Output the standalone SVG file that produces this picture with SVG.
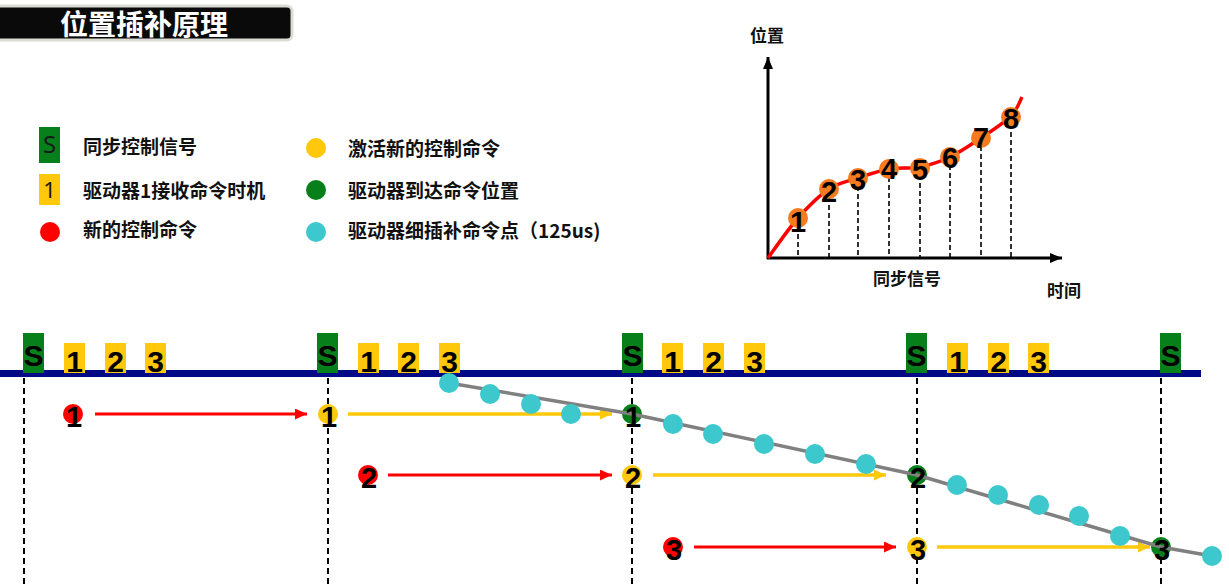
<svg xmlns="http://www.w3.org/2000/svg" width="1229" height="585" viewBox="0 0 1229 585">
<style>
.cjk{font-family:"Noto Sans CJK SC","Noto Sans",sans-serif;font-weight:bold;fill:#111}
.lbl{font-size:19px}
.big{font-family:"Liberation Sans",Arial,sans-serif;font-weight:bold;font-size:30px;fill:#000;text-anchor:middle}
.num{font-family:"Liberation Sans",Arial,sans-serif;font-weight:bold;font-size:29px;fill:#000;text-anchor:middle}
.sg{fill:#077F1A}
.yl{fill:#FFC80A}
.rd{fill:#FF0000}
.cy{fill:#3CC8CC}
.or{fill:#F47B20}
.dash{stroke:#000;stroke-width:2;stroke-dasharray:6 4;fill:none}
.cdash{stroke:#000;stroke-width:1.6;stroke-dasharray:5 3;fill:none}
</style>
<defs>
<marker id="ar" viewBox="0 0 12 11" refX="12" refY="5.5" markerWidth="12" markerHeight="11" markerUnits="userSpaceOnUse" orient="auto"><path d="M0,0 L12,5.5 L0,11 z" fill="#FF0000"/></marker>
<marker id="ay" viewBox="0 0 12 11" refX="12" refY="5.5" markerWidth="12" markerHeight="11" markerUnits="userSpaceOnUse" orient="auto"><path d="M0,0 L12,5.5 L0,11 z" fill="#FFC80A"/></marker>
<marker id="ak" viewBox="0 0 12 10" refX="12" refY="5" markerWidth="12" markerHeight="10" markerUnits="userSpaceOnUse" orient="auto"><path d="M0,0 L12,5 L0,10 z" fill="#000"/></marker>
</defs>
<rect width="1229" height="585" fill="#fff"/>

<g id="title">
<rect x="-6" y="6" width="298" height="34" rx="5" fill="#0a0a0a" stroke="#dcdcd4" stroke-width="3"/>
<text x="144" y="35" font-family="Noto Sans CJK SC,sans-serif" font-weight="bold" font-size="28" fill="#fff" text-anchor="middle">位置插补原理</text>
</g>

<g id="legend">
<g id="lg-s"><rect class="sg" x="39" y="127" width="21" height="36"/><text x="49.5" y="153" font-family="Noto Sans,sans-serif" font-size="24" fill="#1a1a1a" text-anchor="middle">S</text><text class="cjk lbl" x="83" y="154">同步控制信号</text></g>
<g id="lg-1"><rect class="yl" x="39" y="174" width="21" height="31"/><text x="49.5" y="198" font-family="Noto Sans,sans-serif" font-size="22" fill="#1a1a1a" text-anchor="middle">1</text><text class="cjk lbl" x="83" y="198">驱动器1接收命令时机</text></g>
<g id="lg-red"><circle class="rd" cx="50" cy="232" r="10"/><text class="cjk lbl" x="83" y="237">新的控制命令</text></g>
<g id="lg-yel"><circle class="yl" cx="316" cy="148" r="10"/><text class="cjk lbl" x="348" y="156">激活新的控制命令</text></g>
<g id="lg-grn"><circle class="sg" cx="316" cy="190" r="10"/><text class="cjk lbl" x="348" y="198">驱动器到达命令位置</text></g>
<g id="lg-cy"><circle class="cy" cx="316" cy="232" r="10"/><text class="cjk lbl" x="348" y="238">驱动器细插补命令点（125us)</text></g>
</g>

<g id="chart">
<g id="chart-dashes">
<line class="cdash" x1="798" y1="218" x2="798" y2="258"/>
<line class="cdash" x1="829" y1="189" x2="829" y2="258"/>
<line class="cdash" x1="858" y1="178" x2="858" y2="258"/>
<line class="cdash" x1="889" y1="169" x2="889" y2="258"/>
<line class="cdash" x1="920" y1="167" x2="920" y2="258"/>
<line class="cdash" x1="950" y1="157" x2="950" y2="258"/>
<line class="cdash" x1="981" y1="138" x2="981" y2="258"/>
<line class="cdash" x1="1011" y1="116" x2="1011" y2="258"/>
</g>
<g id="axes">
<line x1="768" y1="259" x2="768" y2="57" stroke="#000" stroke-width="3" marker-end="url(#ak)"/>
<line x1="767" y1="258" x2="1062" y2="258" stroke="#000" stroke-width="3" marker-end="url(#ak)"/>
</g>
<path id="curve" d="M768,258 C773,251.3 787.8,229.5 798,218 C808.2,206.5 819,195.7 829,189 C839,182.3 848,181.3 858,178 C868,174.7 878.7,170.8 889,169 C899.3,167.2 909.8,169 920,167 C930.2,165 939.8,161.8 950,157 C960.2,152.2 970.8,144.8 981,138 C991.2,131.2 1004.2,122.8 1011,116 C1017.8,109.2 1020.2,100.2 1022,97" fill="none" stroke="#FF0000" stroke-width="3.5"/>
<g id="pt1"><circle class="or" cx="798" cy="218" r="10"/><text class="num" x="798" y="232">1</text></g>
<g id="pt2"><circle class="or" cx="829" cy="189" r="10"/><text class="num" x="829" y="202">2</text></g>
<g id="pt3"><circle class="or" cx="858" cy="178" r="10"/><text class="num" x="858" y="190">3</text></g>
<g id="pt4"><circle class="or" cx="889" cy="169" r="10"/><text class="num" x="889" y="179">4</text></g>
<g id="pt5"><circle class="or" cx="920" cy="168" r="10"/><text class="num" x="920" y="180">5</text></g>
<g id="pt6"><circle class="or" cx="950" cy="157" r="10"/><text class="num" x="950" y="168">6</text></g>
<g id="pt7"><circle class="or" cx="981" cy="138" r="10"/><text class="num" x="981" y="148">7</text></g>
<g id="pt8"><circle class="or" cx="1011" cy="117" r="10"/><text class="num" x="1011" y="129">8</text></g>
<text class="cjk" x="750" y="42" font-size="17">位置</text>
<text class="cjk" x="873" y="285" font-size="17">同步信号</text>
<text class="cjk" x="1047" y="297" font-size="17">时间</text>
</g>

<g id="sync-dashes">
<line class="dash" x1="24" y1="378" x2="24" y2="585"/>
<line class="dash" x1="328" y1="378" x2="328" y2="585"/>
<line class="dash" x1="632" y1="378" x2="632" y2="585"/>
<line class="dash" x1="917" y1="378" x2="917" y2="585"/>
<line class="dash" x1="1161" y1="378" x2="1161" y2="585"/>
</g>

<line id="bus" x1="0" y1="373.5" x2="1201" y2="373.5" stroke="#000A85" stroke-width="7"/>

<g id="sync-1"><rect class="sg" x="23" y="333" width="21" height="40"/><text class="big" x="33.5" y="366">S</text>
<rect class="yl" x="64" y="343" width="21" height="30"/><text class="big" x="74.5" y="372">1</text>
<rect class="yl" x="105" y="343" width="21" height="30"/><text class="big" x="115.5" y="372">2</text>
<rect class="yl" x="145" y="343" width="21" height="30"/><text class="big" x="155.5" y="372">3</text></g>
<g id="sync-2"><rect class="sg" x="317" y="333" width="21" height="40"/><text class="big" x="327.5" y="366">S</text>
<rect class="yl" x="358" y="343" width="21" height="30"/><text class="big" x="368.5" y="372">1</text>
<rect class="yl" x="398" y="343" width="21" height="30"/><text class="big" x="408.5" y="372">2</text>
<rect class="yl" x="439" y="343" width="21" height="30"/><text class="big" x="449.5" y="372">3</text></g>
<g id="sync-3"><rect class="sg" x="622" y="333" width="21" height="40"/><text class="big" x="632.5" y="366">S</text>
<rect class="yl" x="662" y="343" width="21" height="30"/><text class="big" x="672.5" y="372">1</text>
<rect class="yl" x="703" y="343" width="21" height="30"/><text class="big" x="713.5" y="372">2</text>
<rect class="yl" x="744" y="343" width="21" height="30"/><text class="big" x="754.5" y="372">3</text></g>
<g id="sync-4"><rect class="sg" x="906" y="333" width="21" height="40"/><text class="big" x="916.5" y="366">S</text>
<rect class="yl" x="947" y="343" width="21" height="30"/><text class="big" x="957.5" y="372">1</text>
<rect class="yl" x="988" y="343" width="21" height="30"/><text class="big" x="998.5" y="372">2</text>
<rect class="yl" x="1028" y="343" width="21" height="30"/><text class="big" x="1038.5" y="372">3</text></g>
<g id="sync-5"><rect class="sg" x="1160" y="333" width="21" height="40"/><text class="big" x="1170.5" y="366">S</text></g>

<g id="connectors">
<line x1="95" y1="414" x2="307" y2="414" stroke="#FF0000" stroke-width="3" marker-end="url(#ar)"/>
<line x1="348" y1="414" x2="612" y2="414" stroke="#FFC80A" stroke-width="3.5" marker-end="url(#ay)"/>
<line x1="388" y1="475" x2="612" y2="475" stroke="#FF0000" stroke-width="3" marker-end="url(#ar)"/>
<line x1="653" y1="475" x2="886" y2="475" stroke="#FFC80A" stroke-width="3.5" marker-end="url(#ay)"/>
<line x1="694" y1="547" x2="896" y2="547" stroke="#FF0000" stroke-width="3" marker-end="url(#ar)"/>
<line x1="937" y1="547" x2="1150" y2="547" stroke="#FFC80A" stroke-width="3.5" marker-end="url(#ay)"/>
</g>

<g id="cmd-circles">
<circle class="rd" cx="73" cy="414" r="10"/>
<circle class="yl" cx="328" cy="414" r="10"/>
<circle class="sg" cx="632" cy="414" r="10"/>
<circle class="rd" cx="368" cy="475" r="10"/>
<circle class="yl" cx="632" cy="475" r="10"/>
<circle class="sg" cx="917" cy="475" r="10"/>
<circle class="rd" cx="673" cy="547" r="10"/>
<circle class="yl" cx="917" cy="547" r="10"/>
<circle class="sg" cx="1161" cy="547" r="10"/>
</g>

<polyline id="interp-line" points="449,383 632,414 917,475 1120,535 1161,547 1212,556" fill="none" stroke="#808080" stroke-width="3.5"/>

<g id="interp-points">
<circle class="cy" cx="449" cy="383" r="10"/>
<circle class="cy" cx="490" cy="394" r="10"/>
<circle class="cy" cx="531" cy="404" r="10"/>
<circle class="cy" cx="571" cy="414" r="10"/>
<circle class="cy" cx="673" cy="424" r="10"/>
<circle class="cy" cx="713" cy="434" r="10"/>
<circle class="cy" cx="764" cy="444" r="10"/>
<circle class="cy" cx="815" cy="454" r="10"/>
<circle class="cy" cx="866" cy="464" r="10"/>
<circle class="cy" cx="957" cy="485" r="10"/>
<circle class="cy" cx="998" cy="495" r="10"/>
<circle class="cy" cx="1039" cy="505" r="10"/>
<circle class="cy" cx="1079" cy="516" r="10"/>
<circle class="cy" cx="1120" cy="536" r="10"/>
<circle class="cy" cx="1212" cy="556" r="10"/>
</g>

<g id="cmd-labels">
<text class="num" x="74" y="427">1</text>
<text class="num" x="329" y="427">1</text>
<text class="num" x="633" y="427">1</text>
<text class="num" x="369" y="488">2</text>
<text class="num" x="633" y="488">2</text>
<text class="num" x="918" y="488">2</text>
<text class="num" x="674" y="560">3</text>
<text class="num" x="918" y="560">3</text>
<text class="num" x="1162" y="560">3</text>
</g>
</svg>
